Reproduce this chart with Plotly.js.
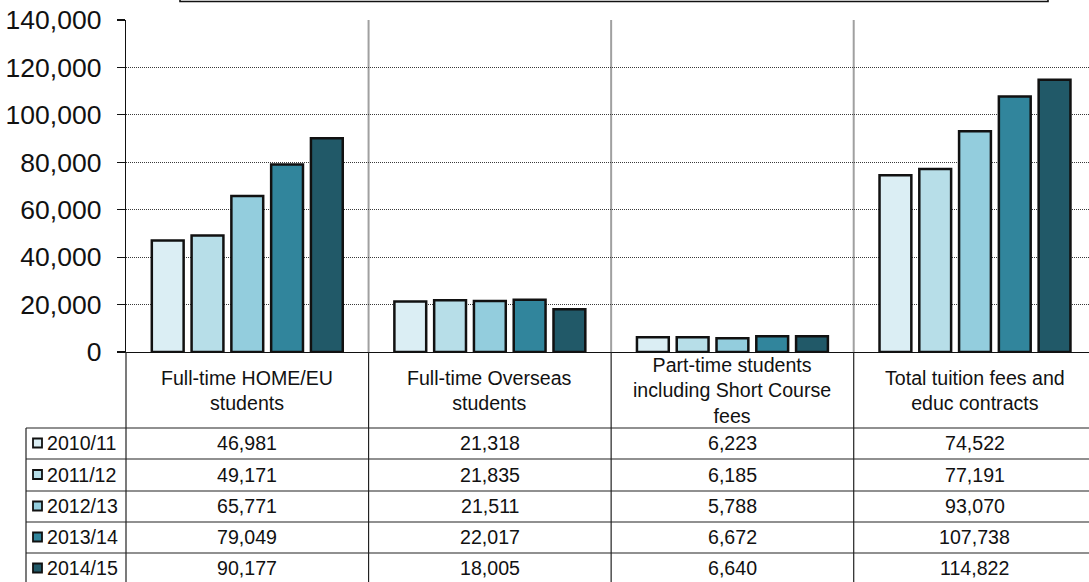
<!DOCTYPE html>
<html>
<head>
<meta charset="utf-8">
<script src="https://cdn.plot.ly/plotly-3.0.1.min.js"></script>
<style>
  html, body { margin: 0; padding: 0; background: #fff; }
  #chart { width: 1089px; height: 582px; }
</style>
</head>
<body>
<div id="chart"></div>
<script>
// Tuition fee income by student group (£000)
const categories = [
  'Full-time HOME/EU students',
  'Full-time Overseas students',
  'Part-time students including Short Course fees',
  'Total tuition fees and educ contracts'
];
const categoryLabels = [
  'Full-time HOME/EU<br>students',
  'Full-time Overseas<br>students',
  'Part-time students<br>including Short Course<br>fees',
  'Total tuition fees and<br>educ contracts'
];
const years = ['2010/11', '2011/12', '2012/13', '2013/14', '2014/15'];
const fees2010 = [46981, 21318, 6223, 74522];
const fees2011 = [49171, 21835, 6185, 77191];
const fees2012 = [65771, 21511, 5788, 93070];
const fees2013 = [79049, 22017, 6672, 107738];
const fees2014 = [90177, 18005, 6640, 114822];
const seriesValues = [fees2010, fees2011, fees2012, fees2013, fees2014];
const yTickValues = [0, 20000, 40000, 60000, 80000, 100000, 120000, 140000];

const colors = ['#DBEEF4', '#B7DEE8', '#93CDDD', '#31859C', '#215968'];
const FONT = 'Liberation Sans, Arial, sans-serif';
const TABLE_FONT = 19.6;

// page geometry
const W = 1089, H = 582;
const M = { l: 126, r: 0, t: 20, b: 230 };
const plotW = W - M.l - M.r, plotH = H - M.t - M.b;
const zeroY = H - M.b;
const px = p => (p - M.l) / plotW;          // pixel x -> paper x
const py = p => (zeroY - p) / plotH;        // pixel y -> paper y

const traces = years.map((yr, i) => ({
  type: 'bar',
  name: yr,
  x: categories,
  y: seriesValues[i],
  marker: { color: colors[i], line: { color: '#111', width: 2.5 } },
  hoverinfo: 'skip'
}));

// data table beneath the plot
const headerBottom = 428;
const rowLines = [428, 459, 491, 522, 553, 584];
const tableLeft = 26;

const shapes = [];
const annotations = [];

// category separators inside the plot (gray)
[0.5, 1.5, 2.5].forEach(b => {
  shapes.push({ type: 'line', xref: 'x', yref: 'paper', x0: b, x1: b, y0: 0, y1: 1,
    line: { color: '#A0A0A0', width: 2 }, layer: 'below' });
  // continuation through the table (black)
  shapes.push({ type: 'line', xref: 'x', yref: 'paper', x0: b, x1: b, y0: py(zeroY), y1: py(H + 2),
    line: { color: '#222', width: 1.2 } });
});
// left edge of value columns
shapes.push({ type: 'line', xref: 'paper', yref: 'paper', x0: 0, x1: 0, y0: 0, y1: py(H + 2),
  line: { color: '#222', width: 1.2 } });
// left edge of legend column
shapes.push({ type: 'line', xref: 'paper', yref: 'paper', x0: px(tableLeft), x1: px(tableLeft),
  y0: py(headerBottom), y1: py(H + 2), line: { color: '#222', width: 1.2 } });
// horizontal row rules
rowLines.forEach(r => {
  shapes.push({ type: 'line', xref: 'paper', yref: 'paper', x0: px(tableLeft), x1: 1.01,
    y0: py(r), y1: py(r), line: { color: '#222', width: 1.2 } });
});

// header labels
categories.forEach((c, j) => {
  annotations.push({ xref: 'x', yref: 'paper', x: c, y: py((zeroY + headerBottom) / 2),
    text: categoryLabels[j], showarrow: false, xanchor: 'center', yanchor: 'middle',
    font: { family: FONT, size: TABLE_FONT, color: '#111' } });
});

// rows: legend key, year label, values
years.forEach((yr, i) => {
  const top = rowLines[i], bot = rowLines[i + 1];
  const mid = (top + bot) / 2 - 0.5;
  shapes.push({ type: 'rect', xref: 'paper', yref: 'paper',
    x0: px(33), x1: px(42), y0: py(mid + 4.5), y1: py(mid - 4.5),
    fillcolor: colors[i], line: { color: '#111', width: 1.8 } });
  annotations.push({ xref: 'paper', yref: 'paper', x: px(45), y: py(mid), text: yr,
    showarrow: false, xanchor: 'left', yanchor: 'middle',
    font: { family: FONT, size: TABLE_FONT, color: '#111' } });
  seriesValues[i].forEach((v, j) => {
    annotations.push({ xref: 'x', yref: 'paper', x: categories[j], y: py(mid),
      text: v.toLocaleString('en-US'), showarrow: false, xanchor: 'center', yanchor: 'middle',
      font: { family: FONT, size: TABLE_FONT, color: '#111' } });
  });
});

// empty title frame at the top edge
shapes.push({ type: 'rect', xref: 'paper', yref: 'paper',
  x0: px(180), x1: px(1048), y0: py(1.5), y1: py(-20),
  fillcolor: '#fff', line: { color: '#111', width: 1.6 } });

const layout = {
  width: W, height: H,
  margin: M,
  paper_bgcolor: '#fff', plot_bgcolor: '#fff',
  showlegend: false,
  barmode: 'group',
  bargap: 0.18,
  bargroupgap: 0.2,
  hovermode: false,
  font: { family: FONT, color: '#111' },
  xaxis: {
    type: 'category',
    range: [-0.5, 3.47],
    showticklabels: false,
    showgrid: false,
    ticks: '',
    showline: true, linecolor: '#111', linewidth: 1.3,
    zeroline: false,
    fixedrange: true
  },
  yaxis: {
    range: [0, 140000],
    tickvals: yTickValues,
    tickformat: ',',
    ticks: 'outside', ticklen: 8, tickcolor: '#111', tickwidth: 1.2,
    ticklabelstandoff: 10,
    tickfont: { family: FONT, size: 26.5, color: '#111' },
    showgrid: true, gridcolor: '#3a3a3a', gridwidth: 1, griddash: '1px,1px',
    showline: true, linecolor: '#111', linewidth: 1.3,
    zeroline: false,
    fixedrange: true
  },
  shapes: shapes,
  annotations: annotations
};

Plotly.newPlot('chart', traces, layout, { displayModeBar: false, staticPlot: true });
</script>
</body>
</html>
